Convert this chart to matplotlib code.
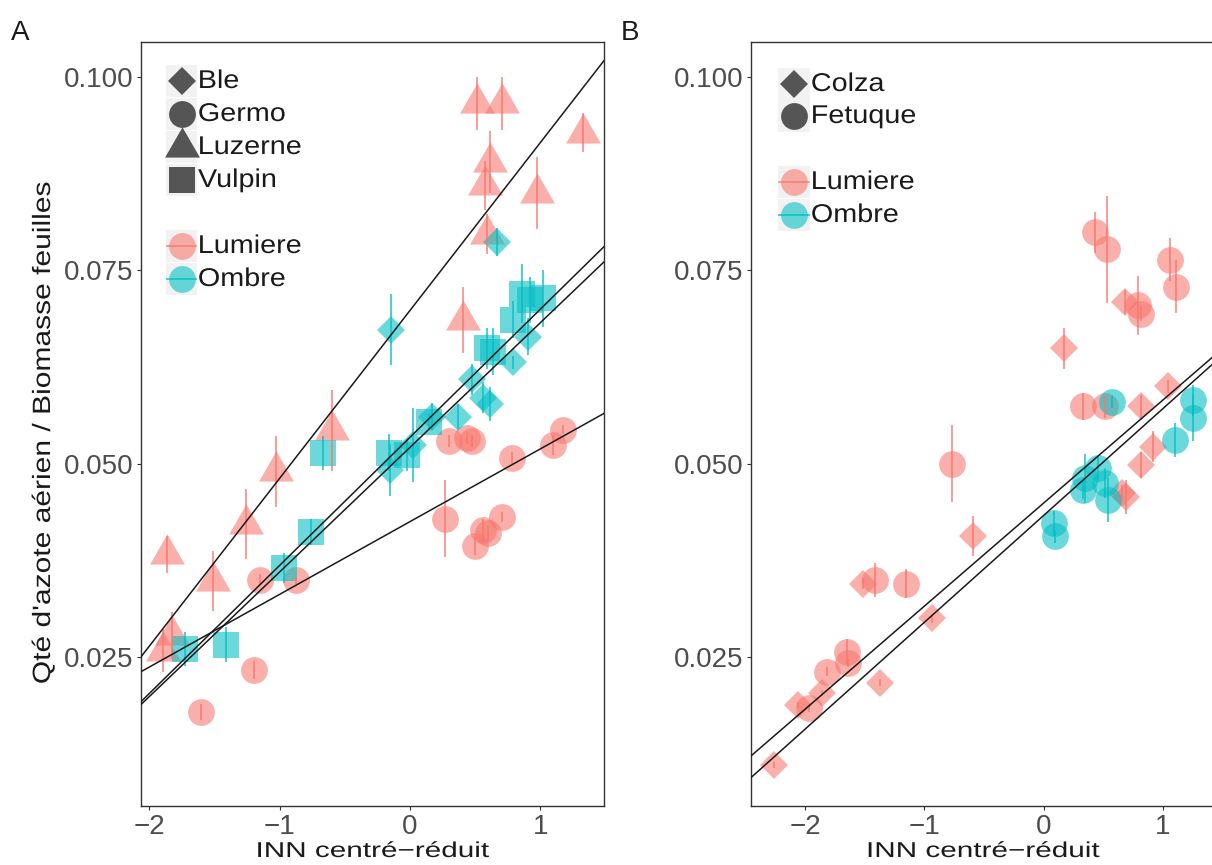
import matplotlib
matplotlib.use("Agg")
import matplotlib.pyplot as plt
from matplotlib.lines import Line2D
from matplotlib.patches import Rectangle
from matplotlib.patheffects import AbstractPathEffect
from matplotlib.transforms import Affine2D
import numpy as np

plt.rcParams['font.family'] = ['Liberation Sans', 'DejaVu Sans']

# ---------------- Panel A data ----------------
# Luzerne (triangles), Lumiere
a_luz_lum_x = [0.513, 0.704, 1.326, 0.615, 0.577, 0.973, 0.589, 0.410, -0.600, -1.030, -1.258, -1.866, -1.513, -1.828, -1.893]
a_luz_lum_y = [0.0966, 0.0966, 0.0928, 0.0890, 0.0860, 0.0850, 0.0797, 0.0686, 0.0543, 0.0490, 0.0422, 0.0383, 0.0348, 0.0278, 0.0258]
a_luz_lum_e = [0.0034, 0.0034, 0.0025, 0.0040, 0.0032, 0.0046, 0.0026, 0.0043, 0.0052, 0.0046, 0.0045, 0.0024, 0.0039, 0.0030, 0.0028]
# Germo (circles), Lumiere
a_ger_lum_x = [0.302, 0.440, 0.480, 0.781, 1.096, 1.178, 0.270, 0.704, 0.563, 0.602, 0.500, -1.150, -0.877, -1.196, -1.603]
a_ger_lum_y = [0.0529, 0.0533, 0.0529, 0.0507, 0.0524, 0.0544, 0.0429, 0.0431, 0.0414, 0.0410, 0.0393, 0.0350, 0.0349, 0.0233, 0.0179]
a_ger_lum_e = [0.0008, 0.0008, 0.0008, 0.0008, 0.0013, 0.0006, 0.0050, 0.0006, 0.0015, 0.0010, 0.0011, 0.0007, 0.0005, 0.0012, 0.0010]
# Vulpin (squares), Ombre
a_vul_omb_x = [-1.726, -1.411, -0.966, -0.761, -0.669, -0.160, -0.025, 0.149, 0.589, 0.640, 0.789, 0.858, 0.920, 1.024]
a_vul_omb_y = [0.0260, 0.0266, 0.0365, 0.0412, 0.0514, 0.0514, 0.0511, 0.0554, 0.0649, 0.0645, 0.0686, 0.0720, 0.0712, 0.0714]
a_vul_omb_e = [0.0022, 0.0023, 0.0019, 0.0017, 0.0022, 0.0024, 0.0020, 0.0010, 0.0027, 0.0030, 0.0024, 0.0038, 0.0030, 0.0037]
# Ble (diamonds), Ombre
a_ble_omb_x = [0.666, -0.145, 0.909, 0.794, 0.480, 0.615, 0.560, 0.372, 0.167, 0.026, -0.153]
a_ble_omb_y = [0.0787, 0.0673, 0.0664, 0.0631, 0.0609, 0.0577, 0.0585, 0.0561, 0.0561, 0.0524, 0.0492]
a_ble_omb_e = [0.0018, 0.0046, 0.0024, 0.0008, 0.0020, 0.0022, 0.0020, 0.0016, 0.0018, 0.0048, 0.0034]
# regression lines: Luzerne, Germo, Ble, Vulpin
a_fit_intercept = [0.0698, 0.0425, 0.0534, 0.0521]
a_fit_slope = [0.0217, 0.0094, 0.01656, 0.01611]
a_shape_labels = ["Ble", "Germo", "Luzerne", "Vulpin"]

# ---------------- Panel B data ----------------
# Fetuque (circles), Lumiere
b_fet_lum_x = [0.431, 0.529, 1.059, 1.110, 0.793, 0.820, 0.331, 0.514, -0.764, -1.416, -1.153, -1.651, -1.637, -1.814, -1.966]
b_fet_lum_y = [0.0799, 0.0777, 0.0764, 0.0729, 0.0705, 0.0694, 0.0574, 0.0574, 0.0500, 0.0350, 0.0345, 0.0257, 0.0242, 0.0231, 0.0184]
b_fet_lum_e = [0.0027, 0.0069, 0.0028, 0.0034, 0.0038, 0.0010, 0.0017, 0.0015, 0.0050, 0.0022, 0.0019, 0.0016, 0.0005, 0.0006, 0.0005]
# Colza (diamonds), Lumiere
b_col_lum_x = [0.682, 0.175, 1.045, 0.820, 0.917, 0.820, 0.692, 0.660, -0.591, -1.514, -0.938, -1.371, -1.860, -2.056, -2.264]
b_col_lum_y = [0.0709, 0.0649, 0.0600, 0.0574, 0.0522, 0.0498, 0.0457, 0.0462, 0.0406, 0.0345, 0.0300, 0.0217, 0.0203, 0.0188, 0.0110]
b_col_lum_e = [0.0016, 0.0026, 0.0008, 0.0015, 0.0020, 0.0017, 0.0022, 0.0010, 0.0026, 0.0007, 0.0006, 0.0005, 0.0004, 0.0004, 0.0004]
# Fetuque (circles), Ombre
b_fet_omb_x = [0.570, 1.253, 1.253, 1.101, 0.347, 0.459, 0.543, 0.331, 0.514, 0.084, 0.096]
b_fet_omb_y = [0.0580, 0.0582, 0.0559, 0.0531, 0.0481, 0.0494, 0.0453, 0.0466, 0.0475, 0.0423, 0.0406]
b_fet_omb_e = [0.0008, 0.0020, 0.0030, 0.0022, 0.0032, 0.0015, 0.0028, 0.0012, 0.0020, 0.0016, 0.0008]
# regression lines
b_fit_intercept = [0.0449, 0.0433]
b_fit_slope = [0.01333, 0.01382]
b_shape_labels = ["Colza", "Fetuque"]

color_labels = ["Lumiere", "Ombre"]
RED = "#F8766D"
CYAN = "#00BFC4"
PT_ALPHA = 0.58

TRI = [(0.0, 0.57735), (0.5, -0.288675), (-0.5, -0.288675)]
MS = {"o": 19.3, "s": 18.5, "D": 14.0, "tri": 29.0}


class Stretch(AbstractPathEffect):
    """Widen glyphs along the baseline (anchored at centre or left)."""

    def __init__(self, sx=1.0, anchor="center"):
        super().__init__()
        self._sx = sx
        self._anchor = anchor

    def draw_path(self, renderer, gc, tpath, affine, rgbFace=None):
        ext = tpath.get_extents()
        cx = 0.5 * (ext.x0 + ext.x1) if self._anchor == "center" else ext.x0
        t = Affine2D().translate(-cx, 0).scale(self._sx, 1.0).translate(cx, 0)
        renderer.draw_path(gc, tpath, t + affine, rgbFace)


W, H = 1212, 865
fig = plt.figure(figsize=(W / 100, H / 100), dpi=100)


def fx(px):
    return px / W


def fy(py):
    return 1 - py / H


def mk(kind):
    return TRI if kind == "tri" else kind


def draw_group(ax, x, y, e, kind, color):
    x = np.asarray(x); y = np.asarray(y); e = np.asarray(e)
    ax.plot(x, y, linestyle="none", marker=mk(kind), markersize=MS[kind],
            markerfacecolor=color, markeredgewidth=0, alpha=PT_ALPHA, zorder=2)
    ax.vlines(x, y - e, y + e, colors=color, linewidth=1.2, alpha=0.85, zorder=3)


def style_axes(ax, xlim):
    ax.set_xlim(*xlim)
    ax.set_ylim(0.005732, 0.10453)
    ax.set_xticks([-2, -1, 0, 1])
    ax.set_xticklabels(["\u22122", "\u22121", "0", "1"])
    ax.set_yticks([0.025, 0.050, 0.075, 0.100])
    ax.set_yticklabels(["0.025", "0.050", "0.075", "0.100"])
    ax.tick_params(direction="out", length=3.0, width=0.8, color="#333333",
                   labelsize=20, labelcolor="#4D4D4D", pad=2.5)
    for s in ax.spines.values():
        s.set_color("#333333")
        s.set_linewidth(1.0)
    ax.set_xlabel("INN centr\u00e9\u2212r\u00e9duit", fontsize=15.5, color="#1A1A1A",
                  path_effects=[Stretch(1.38)])
    ax.xaxis.label.set_va("baseline")
    ax.xaxis.set_label_coords(0.5, -(857 - 806) / 764)


def legend_text(x, y, s):
    fig.text(fx(x), fy(y), s, fontsize=18.5, color="#1A1A1A", ha="left", va="center",
             zorder=6, path_effects=[Stretch(1.12, anchor="left")])


def draw_legend(shape_kinds, shape_labels, key_x0, key_w, shape_ys, color_ys, text_x):
    kh = 32
    for kind, lab, yc in zip(shape_kinds, shape_labels, shape_ys):
        fig.add_artist(Rectangle((fx(key_x0), fy(yc + kh / 2)), key_w / W, kh / H,
                                 transform=fig.transFigure, facecolor="#F2F2F2",
                                 edgecolor="none", zorder=4))
        fig.add_artist(Line2D([fx(key_x0 + key_w / 2)], [fy(yc)], transform=fig.transFigure,
                              marker=mk(kind), markersize=MS[kind] if kind != "D" else 14.5,
                              markerfacecolor="#555555", markeredgewidth=0,
                              linestyle="none", zorder=5))
        legend_text(text_x, yc, lab)
    for col, lab, yc in zip([RED, CYAN], color_labels, color_ys):
        fig.add_artist(Rectangle((fx(key_x0), fy(yc + kh / 2)), key_w / W, kh / H,
                                 transform=fig.transFigure, facecolor="#F2F2F2",
                                 edgecolor="none", zorder=4))
        fig.add_artist(Line2D([fx(key_x0 + key_w / 2)], [fy(yc)], transform=fig.transFigure,
                              marker="o", markersize=MS["o"], markerfacecolor=col,
                              markeredgewidth=0, alpha=PT_ALPHA, linestyle="none", zorder=5))
        fig.add_artist(Line2D([fx(key_x0 + 1), fx(key_x0 + key_w - 1)], [fy(yc), fy(yc)],
                              transform=fig.transFigure, color=col, linewidth=1.2,
                              alpha=0.85, zorder=5))
        legend_text(text_x, yc, lab)


# ---------------- Panel A ----------------
axA = fig.add_axes([141 / W, (H - 806) / H, 463 / W, 764 / H])
draw_group(axA, a_luz_lum_x, a_luz_lum_y, a_luz_lum_e, "tri", RED)
draw_group(axA, a_ger_lum_x, a_ger_lum_y, a_ger_lum_e, "o", RED)
draw_group(axA, a_vul_omb_x, a_vul_omb_y, a_vul_omb_e, "s", CYAN)
draw_group(axA, a_ble_omb_x, a_ble_omb_y, a_ble_omb_e, "D", CYAN)
for b, m in zip(a_fit_intercept, a_fit_slope):
    axA.axline((0, b), slope=m, color="#1A1A1A", linewidth=1.1, zorder=4)
style_axes(axA, (-2.0637, 1.4896))
axA.set_ylabel("Qt\u00e9 d'azote a\u00e9rien / Biomasse feuilles", fontsize=18,
               color="#1A1A1A", path_effects=[Stretch(1.2)])
axA.yaxis.label.set_va("center")
axA.yaxis.label.set_ha("center")
axA.yaxis.set_label_coords((43 - 141) / 463, (806 - 433) / 764)

draw_legend(["D", "o", "tri", "s"], a_shape_labels, 166, 31,
            [81, 114, 147, 180], [246, 279], 198)

# ---------------- Panel B ----------------
axB = fig.add_axes([751 / W, (H - 806) / H, 464 / W, 764 / H])
draw_group(axB, b_fet_lum_x, b_fet_lum_y, b_fet_lum_e, "o", RED)
draw_group(axB, b_col_lum_x, b_col_lum_y, b_col_lum_e, "D", RED)
draw_group(axB, b_fet_omb_x, b_fet_omb_y, b_fet_omb_e, "o", CYAN)
for b, m in zip(b_fit_intercept, b_fit_slope):
    axB.axline((0, b), slope=m, color="#1A1A1A", linewidth=1.1, zorder=4)
style_axes(axB, (-2.4526, 1.4367))

draw_legend(["D", "o"], b_shape_labels, 778, 32,
            [84, 116], [182, 215], 811)

fig.text(fx(11), fy(40), "A", fontsize=20, color="#1A1A1A", ha="left", va="baseline")
fig.text(fx(621), fy(40), "B", fontsize=20, color="#1A1A1A", ha="left", va="baseline")

fig.savefig("out.png", dpi=100)
